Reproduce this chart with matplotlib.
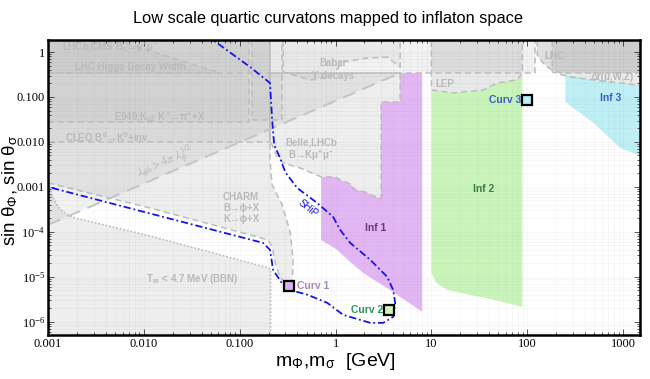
import matplotlib.pyplot as plt
from matplotlib.ticker import LogLocator, NullFormatter

plt.rcParams['font.family'] = ['Liberation Sans', 'DejaVu Sans']
plt.rcParams['mathtext.fontset'] = 'stix'

TOP = 3.0      # beyond upper y limit
BOT = 1e-7     # beyond lower y limit
RIGHT = 1700.0 # beyond right x limit

# SHiP sensitivity curve (m [GeV], sin theta)
ship_m = [0.0446, 0.129, 0.207, 0.218, 0.229, 0.264, 0.298, 0.397, 0.643, 0.944, 1.12, 1.42,
          2.30, 3.46, 3.99, 4.19, 3.99, 3.14, 2.30, 1.20, 0.82, 0.51, 0.336, 0.284, 0.223,
          0.207, 0.175, 0.001]
ship_s = [2.39, 0.46, 0.205, 0.031, 0.0086, 0.0044, 0.00215, 9.5e-4, 4.4e-4, 2.15e-4, 1.1e-4,
          5.7e-5, 2.4e-5, 1.0e-5, 5.1e-6, 2.64e-6, 1.29e-6, 9.5e-7, 9.5e-7, 1.43e-6, 2.64e-6,
          4.0e-6, 5.1e-6, 6.6e-6, 1.43e-5, 4.0e-5, 5.7e-5, 1.0e-3]

# excluded regions
bbn_m = [0.00101, 0.0011, 0.00127, 0.00154, 0.00191, 0.0116, 0.0624, 0.198, 0.21, 0.21, 0.001, 0.001]
bbn_s = [0.00143, 6.6e-4, 3.6e-4, 2.5e-4, 2.05e-4, 8.1e-5, 3.1e-5, 1.58e-5, 1.43e-5, BOT, BOT, 0.00143]

charm_m = [0.001, 0.0116, 0.1285, 0.198, 0.218, 0.234, 0.264, 0.305, 0.352, 0.361, 0.336,
           0.277, 0.218, 0.207, 0.207, 0.001]
charm_s = [0.00123, 3.4e-4, 8.6e-5, 6.6e-5, 4.6e-5, 2.15e-5, 9.5e-6, 7.4e-6, 7.7e-6, 2.39e-5,
           1.0e-4, 4.0e-4, 0.0011, 0.00398, TOP, TOP]

belle_m = [0.207, 0.207, 0.240, 0.284, 0.427, 0.708, 0.99, 1.12, 1.42, 1.60, 2.04, 2.78, 2.99,
           2.99, 4.72, 4.72]
belle_s = [0.341, 0.0111, 0.00514, 0.00341, 0.00264, 0.00167, 0.00167, 0.00143, 0.00117, 8.6e-4,
           7.7e-4, 5.7e-4, 5.7e-4, 0.0774, 0.0774, 0.341]

lam_m = [0.001, 4.72, 0.001]
lam_s = [1.43e-4, 0.341, 0.341]

cleo_m = [0.001, 0.207, 0.207, 0.001]
cleo_s = [0.01, 0.01, TOP, TOP]

e949_m = [0.001, 0.125, 0.125, 0.001]
e949_s = [0.0278, 0.0278, TOP, TOP]
e949b_m = [0.135, 0.277, 0.277, 0.135]
e949b_s = [0.0308, 0.0308, TOP, TOP]

higgs_m = [0.001, 121, 121, 0.001]
higgs_s = [0.341, 0.341, TOP, TOP]

lhcb_m = [0.001, 0.0025, 0.0624, 0.001]
lhcb_s = [TOP, TOP, 0.341, 0.341]

babar_m = [0.284, 0.284, 0.543, 0.879, 1.20, 2.14, 3.46, 4.72, 4.72]
babar_s = [TOP, 0.36, 0.239, 0.278, 0.6, 0.735, 0.77, 0.464, TOP]

lep_m = [10, 10, 16.9, 34.8, 48.6, 78.7, 88.7, 88.7]
lep_s = [TOP, 0.143, 0.123, 0.143, 0.205, 0.239, 0.341, TOP]

lhc_m = [127, 127, 145, 162, 190, 230, RIGHT, RIGHT]
lhc_s = [TOP, 0.86, 0.58, 0.464, 0.38, 0.341, 0.341, TOP]

dr_m = [182, 182, 281, 489, 935, RIGHT, RIGHT]
dr_s = [TOP, 0.36, 0.278, 0.239, 0.205, 0.175, TOP]

# inflaton regions
inf1_m = [0.708, 0.99, 1.12, 1.42, 1.60, 2.04, 2.78, 2.99, 2.99, 4.72, 4.72, 8.0, 8.0, 3.71,
          1.94, 1.42, 1.04, 0.708]
inf1_s = [0.00167, 0.00167, 0.00143, 0.00117, 8.6e-4, 7.7e-4, 5.7e-4, 5.7e-4, 0.0774, 0.0774,
          0.341, 0.341, 1.67e-6, 5.1e-6, 1.23e-5, 2.15e-5, 4.0e-5, 6.6e-5]

inf2_m = [10, 16.9, 34.8, 48.6, 78.7, 88.7, 88.7, 41.1, 20.0, 14.6, 11.2, 10]
inf2_s = [0.143, 0.123, 0.143, 0.205, 0.239, 0.341, 2.15e-6, 3.24e-6, 4.4e-6, 5.1e-6, 7.4e-6, 1.23e-5]

inf3_m = [250, 489, 935, RIGHT, RIGHT, 935, 490, 250]
inf3_s = [0.30, 0.239, 0.205, 0.175, 0.0044, 0.0074, 0.0264, 0.0774]

# curvaton benchmark points
curv_names = ['Curv 1', 'Curv 2', 'Curv 3']
curv_m = [0.328, 3.62, 100.0]
curv_s = [6.3e-6, 1.85e-6, 0.086]

fig = plt.figure(figsize=(6.5, 3.79), dpi=100)
ax = fig.add_axes([48 / 650, 1 - 335 / 379, 592 / 650, 295 / 379])
ax.set_xscale('log')
ax.set_yscale('log')
ax.set_xlim(0.001, 1500)
ax.set_ylim(5.1e-7, 1.85)

ax.grid(which='both', color='0.5', alpha=0.07, lw=0.5, zorder=0)

ax.fill(inf1_m, inf1_s, color='#e2b5f3', lw=0, zorder=1)
ax.fill(inf2_m, inf2_s, color='#c9f4b9', lw=0, zorder=1)
ax.fill(inf3_m, inf3_s, color='#bdeff5', lw=0, zorder=1)

edge = '#bdbdbd'
dash = (0, (4, 2.5))
regions = [
    (bbn_m, bbn_s, 0.065, (0, (1.2, 1.2))),
    (charm_m, charm_s, 0.065, dash),
    (belle_m, belle_s, 0.065, dash),
    (lam_m, lam_s, 0.05, None),
    (cleo_m, cleo_s, 0.035, dash),
    (e949_m, e949_s, 0.03, dash),
    (e949b_m, e949b_s, 0.03, dash),
    (higgs_m, higgs_s, 0.05, dash),
    (lhcb_m, lhcb_s, 0.02, dash),
    (babar_m, babar_s, 0.035, dash),
    (lep_m, lep_s, 0.09, dash),
    (lhc_m, lhc_s, 0.12, dash),
    (dr_m, dr_s, 0.08, dash),
]
for m, s, a, ls in regions:
    ax.fill(m, s, color='k', alpha=a, lw=0, zorder=2)
    if ls is not None:
        ax.plot(m + [m[0]], s + [s[0]], color=edge, lw=1.1, ls=ls, zorder=3)

# lambda boundary line (long dashes)
ax.plot(lam_m[:2], lam_s[:2], color='#c4c4c4', lw=1.4, ls=(0, (7, 4)), zorder=3)

ax.plot(ship_m, ship_s, color='#1515e6', lw=1.3, ls=(0, (4, 1.6, 1, 1.6)), zorder=5)

ax.plot(curv_m[0], curv_s[0], 's', ms=6.5, mfc='#dcaeee', mec='k', mew=1.6, zorder=6)
ax.plot(curv_m[1], curv_s[1], 's', ms=6.5, mfc='#cdf4bb', mec='k', mew=1.6, zorder=6)
ax.plot(curv_m[2], curv_s[2], 's', ms=6.5, mfc='#bdeff5', mec='k', mew=1.6, zorder=6)

gt = dict(color='#bababa', fontsize=7, fontweight='bold', zorder=4)
ax.text(0.0014, 1.29, 'LHCb,CMS B$_\\mathregular{s}$\u2192\u03bc$^\\mathregular{+}$\u03bc$^\\mathregular{-}$',
        ha='left', va='center', **gt)
ax.text(0.0073, 0.464, 'LHC Higgs Decay Width', ha='center', va='center', **gt)
ax.text(0.0148, 0.034, 'E949,K$_{\\mathregular{\u03bc2}}$ K$^\\mathregular{+}$\u2192\u03c0$^\\mathregular{+}$+X',
        ha='center', va='center', **gt)
ax.text(0.0041, 0.0129, 'CLEO B$^\\mathregular{0}$\u2192K$^\\mathregular{0}$+inv', ha='center', va='center', **gt)
ax.text(0.017, 0.0034, '$\\lambda_{\\phi h} > 4\\pi\\ \\lambda_\\phi^{1/2}$', ha='center', va='center',
        rotation=24, color='#b5b5b5', fontsize=8.5, zorder=4)
ax.text(0.944, 0.57, 'Babar', ha='center', va='center', **gt)
ax.text(0.944, 0.293, '\u03a5 decays', ha='center', va='center', **gt)
ax.text(11.0, 0.194, 'LEP', ha='left', va='center', **gt)
ax.text(191, 0.81, 'LHC', ha='center', va='center', **gt)
ax.text(771, 0.278, '\u0394r(\u03bc,W,Z)', ha='center', va='center', **gt)
ax.text(0.556, 0.0095, 'Belle,LHCb', ha='center', va='center', **gt)
ax.text(0.556, 0.0051, 'B\u2192K\u03bc$^\\mathregular{+}$\u03bc$^\\mathregular{-}$', ha='center', va='center', **gt)
ax.text(0.1035, 6.0e-4, 'CHARM', ha='center', va='center', **gt)
ax.text(0.1035, 3.4e-4, 'B\u2192\u03d5+X', ha='center', va='center', **gt)
ax.text(0.1035, 1.95e-4, 'K\u2192\u03d5+X', ha='center', va='center', **gt)
ax.text(0.0319, 9.0e-6, 'T$_\\mathregular{re}$ < 4.7 MeV (BBN)', ha='center', va='center', **gt)

ax.text(0.518, 3.4e-4, 'SHiP', color='#1515e6', fontsize=7, rotation=-38,
        ha='center', va='center', zorder=6)
ax.text(2.59, 1.23e-4, 'Inf 1', color='#6a3a7a', fontsize=7.5, fontweight='bold',
        ha='center', va='center', zorder=6)
ax.text(34.7, 9.0e-4, 'Inf 2', color='#3c7a4a', fontsize=7.5, fontweight='bold',
        ha='center', va='center', zorder=6)
ax.text(735, 0.095, 'Inf 3', color='#3a5ec6', fontsize=7.5, fontweight='bold',
        ha='center', va='center', zorder=6)
ax.text(0.397, curv_s[0], curv_names[0], color='#a68cb2', fontsize=7.5, fontweight='bold',
        ha='left', va='center', zorder=6)
ax.text(3.14, curv_s[1], curv_names[1], color='#2b9458', fontsize=7.5, fontweight='bold',
        ha='right', va='center', zorder=6)
ax.text(86, curv_s[2], curv_names[2], color='#3a5ec6', fontsize=7.5, fontweight='bold',
        ha='right', va='center', zorder=6)

# axes, ticks
xt = [0.001, 0.01, 0.1, 1, 10, 100, 1000]
xtl = ['0.001', '0.010', '0.100', '1', '10', '100', '1000']
yt = [1e-6, 1e-5, 1e-4, 1e-3, 1e-2, 0.1, 1]
ytl = ['$\\mathregular{10^{-6}}$', '$\\mathregular{10^{-5}}$', '$\\mathregular{10^{-4}}$',
       '0.001', '0.010', '0.100', '1']
ax.set_xticks(xt)
ax.set_xticklabels(xtl, fontfamily='Liberation Serif', fontsize=9)
ax.set_yticks(yt)
ax.set_yticklabels(ytl, fontfamily='Liberation Serif', fontsize=9)
ax.xaxis.set_minor_locator(LogLocator(subs=range(2, 10), numticks=20))
ax.yaxis.set_minor_locator(LogLocator(subs=range(2, 10), numticks=20))
ax.xaxis.set_minor_formatter(NullFormatter())
ax.yaxis.set_minor_formatter(NullFormatter())
ax.tick_params(which='both', direction='in', top=True, right=True, width=0.7, colors='0.35',
               labelcolor='k')
ax.tick_params(which='major', length=4, pad=2)
ax.tick_params(which='minor', length=2)
for sp in ax.spines.values():
    sp.set_linewidth(1.8)
    sp.set_zorder(10)

fig.text(0.505, 1 - 18 / 379, 'Low scale quartic curvatons mapped to inflaton space',
         ha='center', va='center', fontsize=11.8)
fig.text(335 / 650, 1 - 361 / 379, 'm$_\\mathregular{\u03a6}$,m$_\\mathregular{\u03c3}$  [GeV]',
         ha='center', va='center', fontsize=14)
fig.text(10 / 650, 1 - 190 / 379, 'sin \u03b8$_\\mathregular{\u03a6}$, sin \u03b8$_\\mathregular{\u03c3}$',
         ha='center', va='center', rotation=90, fontsize=13.5)

fig.savefig('out.png', dpi=100)
